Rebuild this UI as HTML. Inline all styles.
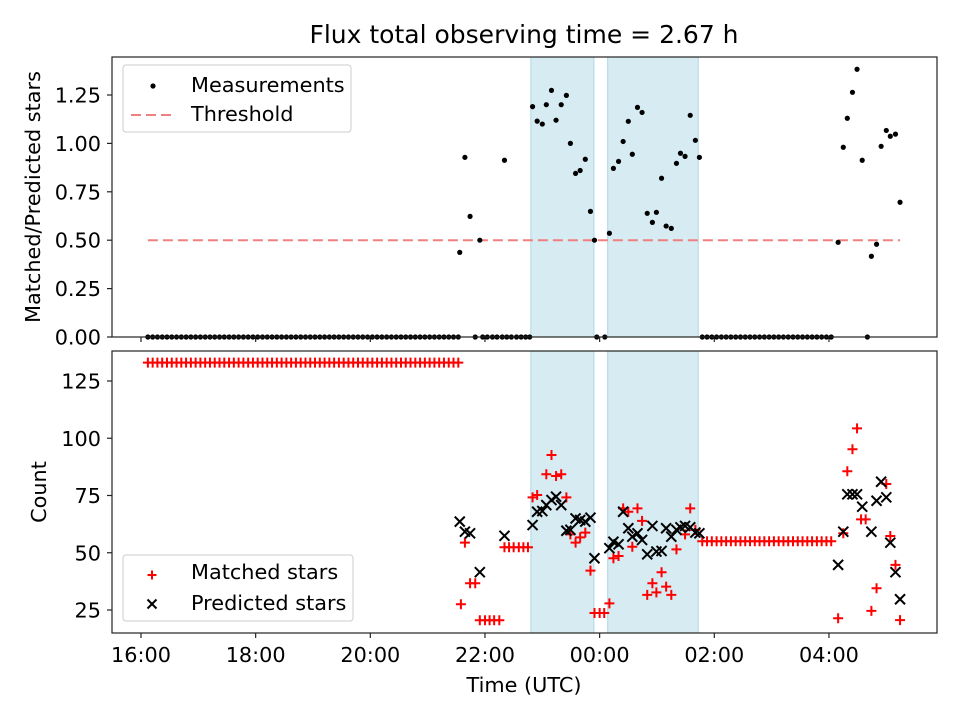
<!DOCTYPE html>
<html><head><meta charset="utf-8"><style>
body{margin:0;background:#fff}
svg{display:block;font-family:"DejaVu Sans","Liberation Sans",sans-serif}
</style></head><body>
<svg id="chart" width="960" height="720" viewBox="0 0 960 720" xmlns="http://www.w3.org/2000/svg">
<rect x="0" y="0" width="960" height="720" fill="#fff"/>
<text x="524" y="43" font-size="25" text-anchor="middle">Flux total observing time = 2.67 h</text>
<g id="topPanel"></g>
<g id="botPanel"></g>
<text x="524" y="692" font-size="20.8" text-anchor="middle">Time (UTC)</text>
<text transform="translate(40,197) rotate(-90)" font-size="20.8" text-anchor="middle">Matched/Predicted stars</text>
<text transform="translate(46,492) rotate(-90)" font-size="20.8" text-anchor="middle">Count</text>
</svg>
<script>
// hours since 16:00
const shadeSpans=[[6.80,7.90],[8.14,9.72]];
const xTickHours=[0,2,4,6,8,10,12];
const xTickLabels=["16:00","18:00","20:00","22:00","00:00","02:00","04:00"];
const topTicks=[0,0.25,0.5,0.75,1.0,1.25];
const topTickLabels=["0.00","0.25","0.50","0.75","1.00","1.25"];
const botTicks=[25,50,75,100,125];
const botTickLabels=["25","50","75","100","125"];
const threshold=0.5;
const thresholdRange=[0.12,13.24];
const earlyTimes=[];for(let i=0;i<66;i++)earlyTimes.push(0.12+i*0.0833);
const lateTimes=[];for(let i=0;i<28;i++)lateTimes.push(9.79+i*0.0833);
const gapZeroTimes=[5.83,5.96,6.04,6.13,6.21,6.3,6.38,6.46,6.55,6.63,6.71,6.78,7.95,8.09,12.67];
const earlyRatio=0, lateRatio=0;
const earlyMatched=133, lateMatched=55;
const ratioTimes=[5.56,5.65,5.74,5.91,6.34,6.83,6.91,7.00,7.07,7.16,7.24,7.33,7.42,7.49,7.58,7.66,7.75,7.84,7.91,8.17,8.24,8.33,8.41,8.50,8.57,8.66,8.74,8.83,8.92,8.99,9.08,9.16,9.25,9.34,9.41,9.49,9.58,9.67,9.74,12.16,12.25,12.32,12.41,12.49,12.58,12.74,12.83,12.91,13.0,13.07,13.16,13.24];
const ratioValues=[0.437,0.928,0.623,0.50,0.913,1.19,1.115,1.10,1.20,1.274,1.12,1.20,1.248,1.0,0.845,0.86,0.918,0.649,0.50,0.536,0.871,0.907,1.01,1.114,0.944,1.186,1.16,0.639,0.592,0.644,0.82,0.573,0.561,0.897,0.949,0.933,1.145,1.016,0.928,0.489,0.98,1.13,1.264,1.383,0.913,0.417,0.479,0.985,1.067,1.037,1.048,0.696];
const matchedTimes=[5.58,5.65,5.74,5.83,5.91,6.0,6.08,6.16,6.25,6.34,6.42,6.5,6.59,6.67,6.75,6.83,6.91,7.07,7.16,7.24,7.33,7.42,7.49,7.58,7.66,7.75,7.84,7.91,8.0,8.08,8.17,8.24,8.33,8.41,8.50,8.57,8.66,8.74,8.83,8.92,8.99,9.08,9.16,9.25,9.34,9.49,9.58,9.67,12.16,12.25,12.32,12.41,12.49,12.56,12.64,12.74,12.83,13.0,13.07,13.16,13.24];
const matchedValues=[27.5,54.4,36.7,36.7,20.5,20.5,20.5,20.5,20.5,52.4,52.4,52.4,52.4,52.4,52.4,74.2,75.2,84.3,92.7,83.5,84.3,74.2,58.0,54.4,56.7,58.8,42.2,23.7,23.7,23.7,27.9,47.6,48.6,69.4,67.9,52.6,69.4,63.9,31.6,36.7,32.7,41.5,35.2,31.6,51.5,58.0,69.4,60,21.4,58.5,85.6,95.2,104.3,64.6,64.6,24.6,34.5,80,57.3,44.7,20.6];
const predTimes=[5.56,5.65,5.74,5.91,6.34,6.83,6.91,7.00,7.07,7.16,7.24,7.33,7.42,7.49,7.58,7.66,7.75,7.84,7.91,8.17,8.24,8.33,8.41,8.50,8.57,8.66,8.74,8.83,8.92,8.99,9.08,9.16,9.25,9.34,9.41,9.49,9.58,9.67,9.74,12.16,12.25,12.32,12.41,12.49,12.58,12.74,12.83,12.91,13.0,13.07,13.16,13.24];
const predValues=[63.6,59.2,58.5,41.5,57.4,62.1,67.9,68.2,70.8,73.0,74.5,70.8,59.6,60,65,64.3,63.6,65.3,47.6,52,54.8,53.7,67.9,60.7,57,58.5,55.6,49.3,61.7,50.5,50.8,60.7,57,60,61.1,61.7,61.1,58.8,58.5,44.7,59.2,75.5,75.5,75.5,70.1,59.2,72.7,81,74.2,54.4,41.5,29.7];

const NS="http://www.w3.org/2000/svg";
const L=112,R=937,T1=57,B1=337,T2=351,B2=633;
const xS=h=>141+h*57.33;
const yT=v=>337-v*193.6;
const yB=v=>610-(v-25)*2.29;
function mk(tag,attrs,parent){const e=document.createElementNS(NS,tag);for(const k in attrs)e.setAttribute(k,attrs[k]);parent.appendChild(e);return e;}
const topG=document.getElementById('topPanel'),botG=document.getElementById('botPanel');

function panel(g,T,B,ticks,labels,yf,showX,nm){
  shadeSpans.forEach(s=>{const r=mk('rect',{x:xS(s[0]),y:T,width:xS(s[1])-xS(s[0]),height:B-T,fill:'#add8e6','fill-opacity':0.5,stroke:'#add8e6','stroke-width':1},g);
    
    });
  ticks.forEach((t,i)=>{const y=yf(t);mk('line',{x1:L-5,x2:L,y1:y,y2:y,stroke:'#222','stroke-width':1.2},g);
    const tx=mk('text',{x:L-11,y:y+7.5,'font-size':20.8,'text-anchor':'end'},g);tx.textContent=labels[i];
    
    });
  xTickHours.forEach((h,i)=>{const x=xS(h);mk('line',{x1:x,x2:x,y1:B,y2:B+5,stroke:'#222','stroke-width':1.2},g);
    if(showX){const tx=mk('text',{x:x,y:B+29,'font-size':20.8,'text-anchor':'middle'},g);tx.textContent=xTickLabels[i];
    
    }});
}
function frame(g,T,B){const f=mk('rect',{x:L,y:T,width:R-L,height:B-T,fill:'none',stroke:'#222','stroke-width':1.2},g);
  
  }

panel(topG,T1,B1,topTicks,topTickLabels,yT,false,'top');
panel(botG,T2,B2,botTicks,botTickLabels,yB,true,'bottom');

const th=mk('line',{x1:xS(thresholdRange[0]),x2:xS(thresholdRange[1]),y1:yT(threshold),y2:yT(threshold),stroke:'#f08080','stroke-width':2,'stroke-dasharray':'10,5'},topG);



function dot(h,v){const c=mk('circle',{cx:xS(h),cy:yT(v),r:2.6,fill:'#000'},topG);
  
  }
earlyTimes.forEach(h=>dot(h,earlyRatio));
lateTimes.forEach(h=>dot(h,lateRatio));
gapZeroTimes.forEach(h=>dot(h,0));
ratioTimes.forEach((h,i)=>dot(h,ratioValues[i]));

function plus(h,v){const x=xS(h),y=yB(v);const p=mk('path',{d:`M${x-5},${y}H${x+5}M${x},${y-5}V${y+5}`,stroke:'#f00','stroke-width':2,fill:'none'},botG);
  
  }
function cross(h,v){const x=xS(h),y=yB(v);const p=mk('path',{d:`M${x-5},${y-5}L${x+5},${y+5}M${x-5},${y+5}L${x+5},${y-5}`,stroke:'#000','stroke-width':2,fill:'none'},botG);
  
  }
earlyTimes.forEach(h=>plus(h,earlyMatched));
lateTimes.forEach(h=>plus(h,lateMatched));
matchedTimes.forEach((h,i)=>plus(h,matchedValues[i]));
predTimes.forEach((h,i)=>cross(h,predValues[i]));

frame(topG,T1,B1);frame(botG,T2,B2);

function legendBox(g,x,y,w,h,nm){const r=mk('rect',{x:x,y:y,width:w,height:h,rx:3,fill:'#fff','fill-opacity':0.8,stroke:'#ccc'},g);
  
  }
legendBox(topG,123,65,228,67,'top-legend');
mk('circle',{cx:153,cy:86,r:2.6,fill:'#000'},topG);
let t=mk('text',{x:191,y:92,'font-size':20.8},topG);t.textContent='Measurements';


mk('line',{x1:131,x2:174,y1:115,y2:115,stroke:'#f08080','stroke-width':2,'stroke-dasharray':'10,5'},topG);
t=mk('text',{x:191,y:121,'font-size':20.8},topG);t.textContent='Threshold';



legendBox(botG,123,555,230,66,'bottom-legend');
mk('path',{d:'M147.5,575H156.5M152,570.5V579.5',stroke:'#f00','stroke-width':2},botG);
t=mk('text',{x:191,y:579,'font-size':20.8},botG);t.textContent='Matched stars';


mk('path',{d:'M147.5,599.5L156.5,608.5M147.5,608.5L156.5,599.5',stroke:'#000','stroke-width':2},botG);
t=mk('text',{x:191,y:610,'font-size':20.8},botG);t.textContent='Predicted stars';


</script>
</body></html>
